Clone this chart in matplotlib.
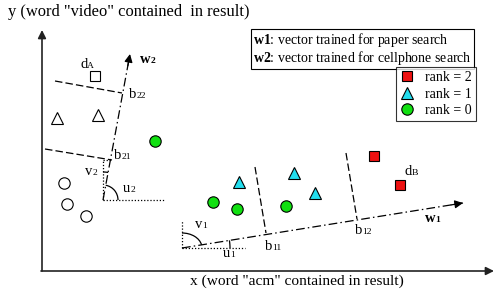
import matplotlib
matplotlib.use("Agg")
import matplotlib.pyplot as plt
from matplotlib.patches import Arc
import numpy as np

plt.rcParams['font.family'] = ['Liberation Serif', 'DejaVu Serif']
plt.rcParams['mathtext.fontset'] = 'custom'
plt.rcParams['mathtext.rm'] = 'Liberation Serif'
plt.rcParams['mathtext.bf'] = 'Liberation Serif:bold'

# documents in feature space (x: "acm" in result, y: "video" in result)
rank2_x = [332, 358]
rank2_y = [115, 86]
rank1_x = [197, 252, 273]
rank1_y = [89, 98, 78]
rank0_x = [113, 171, 195, 244]
rank0_y = [130, 69, 62, 65]
# unlabeled documents for the cellphone search
open_tri_x = [15, 56]
open_tri_y = [153, 156]
open_sq_x = [53]
open_sq_y = [195]
open_circ_x = [22, 25, 44]
open_circ_y = [88, 67, 55]

# trained vectors: origin and tip
w1_x = [140, 421]
w1_y = [23, 68]
w2_x = [61, 88]
w2_y = [71, 217]

# rank boundaries (perpendicular to the vectors)
b11_x, b11_y = [213, 224], [104, 38]
b12_x, b12_y = [304, 315], [118, 52]
b21_x, b21_y = [3, 70], [122, 111]
b22_x, b22_y = [13, 80], [190, 178]

rank_labels = ['rank = 2', 'rank = 1', 'rank = 0']
rank_colors = ['#ee1111', '#22ddee', '#11e011']

FS = 10.5

fig = plt.figure(figsize=(4.94, 2.91), dpi=100)
ax = fig.add_axes([0, 0, 1, 1])
ax.set_xlim(-42, 452)
ax.set_ylim(-20, 271)
ax.axis('off')
renderer = fig.canvas.get_renderer()

# axes with arrows
arrow = dict(arrowstyle='-|>', color='#222222', lw=1.2, mutation_scale=12, shrinkA=0, shrinkB=0)
ax.annotate('', xy=(0, 241), xytext=(0, 0), arrowprops=arrow)
ax.annotate('', xy=(452, 0), xytext=(-1, 0), arrowprops=arrow)

# vectors (dash-dot) with arrow heads
for vx, vy in [(w1_x, w1_y), (w2_x, w2_y)]:
    ax.plot(vx, vy, color='black', lw=0.9, dashes=(7, 2.5, 1.2, 2.5))
    d = np.array([vx[1] - vx[0], vy[1] - vy[0]], dtype=float)
    d /= np.hypot(*d)
    ax.annotate('', xy=(vx[1], vy[1]), xytext=(vx[1] - 12 * d[0], vy[1] - 12 * d[1]),
                arrowprops=dict(arrowstyle='-|>', color='black', lw=0.9, mutation_scale=12,
                                shrinkA=0, shrinkB=0))

# boundaries
for bx, by in [(b11_x, b11_y), (b12_x, b12_y), (b21_x, b21_y), (b22_x, b22_y)]:
    ax.plot(bx, by, color='black', lw=0.9, dashes=(6, 2.5))

# dotted reference lines and angle arcs
dot = dict(color='black', lw=0.9, linestyle=(0, (1, 1.5)))
ax.plot([w2_x[0], w2_x[0]], [w2_y[0], w2_y[0] + 40], **dot)
ax.plot([w2_x[0], w2_x[0] + 9], [w2_y[0] + 40, w2_y[0] + 40], **dot)
ax.plot([w2_x[0], w2_x[0] + 62], [w2_y[0], w2_y[0]], **dot)
ax.plot([w1_x[0], w1_x[0]], [w1_y[0], w1_y[0] + 28], **dot)
ax.plot([w1_x[0], w1_x[0] + 63], [w1_y[0], w1_y[0]], **dot)

a2 = np.degrees(np.arctan2(w2_y[1] - w2_y[0], w2_x[1] - w2_x[0]))
a1 = np.degrees(np.arctan2(w1_y[1] - w1_y[0], w1_x[1] - w1_x[0]))
ax.add_patch(Arc((w2_x[0], w2_y[0]), 30, 30, theta1=0, theta2=a2, color='black', lw=0.9))
ax.add_patch(Arc((w2_x[0], w2_y[0]), 56, 56, theta1=a2, theta2=90, color='black', lw=0.9))
ax.add_patch(Arc((w1_x[0], w1_y[0]), 40, 30, theta1=a1, theta2=90, color='black', lw=0.9))
ax.add_patch(Arc((w1_x[0], w1_y[0]), 96, 96, theta1=0, theta2=a1, color='black', lw=0.9))

# documents
mk = dict(linestyle='none', markeredgecolor='black', markeredgewidth=0.8)
ax.plot(rank2_x, rank2_y, marker='s', markersize=6.5, color=rank_colors[0], label=rank_labels[0], **mk)
ax.plot(rank1_x, rank1_y, marker='^', markersize=8, color=rank_colors[1], label=rank_labels[1], **mk)
ax.plot(rank0_x, rank0_y, marker='o', markersize=8.2, color=rank_colors[2], label=rank_labels[2], **mk)
ax.plot(open_tri_x, open_tri_y, marker='^', markersize=8, markerfacecolor='white', **mk)
ax.plot(open_sq_x, open_sq_y, marker='s', markersize=6.5, markerfacecolor='white', **mk)
ax.plot(open_circ_x, open_circ_y, marker='o', markersize=8.2, markerfacecolor='white', **mk)


def label(x, y, main, sub, weight='normal'):
    t = ax.text(x, y, main, fontsize=FS, fontweight=weight, va='baseline')
    w = t.get_window_extent(renderer=renderer).width
    ax.text(x + w, y, sub, fontsize=FS * 0.65, fontweight=weight, va='baseline')


label(38, 203, 'd', 'A')
label(98, 208, 'w', '2', weight='bold')
label(87, 173, 'b', '22')
label(72, 112, 'b', '21')
label(43, 96, 'v', '2')
label(81, 79, 'u', '2')
label(153, 43, 'v', '1')
label(181, 14, 'u', '1')
label(223, 21, 'b', '11')
label(313, 37, 'b', '12')
label(383, 49, 'w', '1', weight='bold')
label(362, 96, 'd', 'B')

ax.text(-34, 255, 'y (word "video" contained  in result)', fontsize=11.9, va='baseline')
ax.text(148, -14, 'x (word "acm" contained in result)', fontsize=11.1, va='baseline')

# vector description box
ax.text(211, 222, r'$\mathbf{w1}$: vector trained for paper search' + '\n'
        + r'$\mathbf{w2}$: vector trained for cellphone search',
        fontsize=10, va='center', linespacing=1.05,
        bbox=dict(boxstyle='square,pad=0.15', fc='white', ec='black', lw=0.8))

leg = ax.legend(loc='upper right', bbox_to_anchor=(476 / 494, 1 - 67 / 291), borderaxespad=0,
                fontsize=10, frameon=True, fancybox=False, edgecolor='black',
                handlelength=1.0, handletextpad=0.8, labelspacing=0.25, borderpad=0.3)
leg.get_frame().set_linewidth(0.8)

fig.savefig('out.png', dpi=100)
